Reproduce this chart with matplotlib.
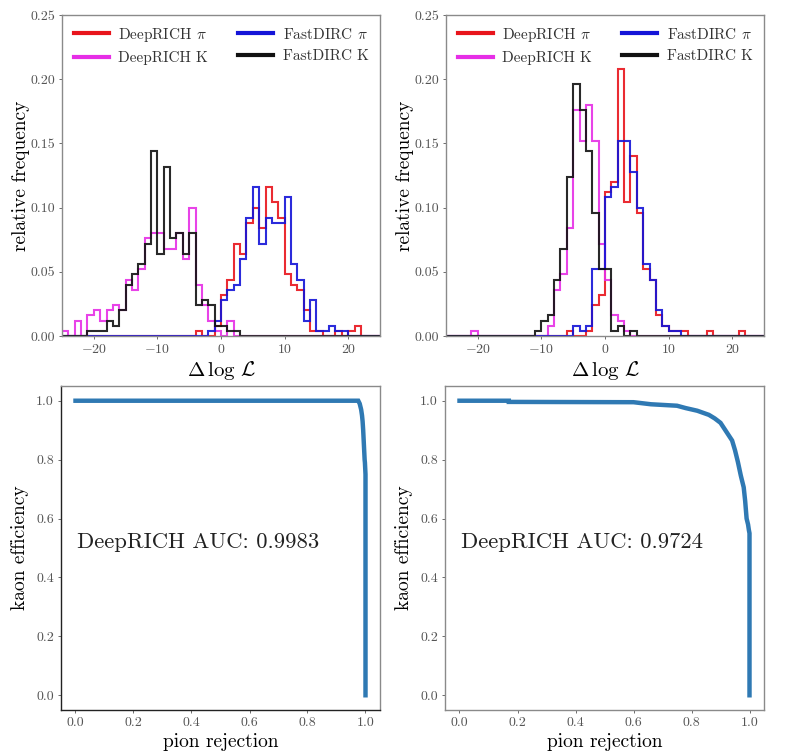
import numpy as np
import matplotlib
matplotlib.use("Agg")
import matplotlib.pyplot as plt

plt.rcParams['font.family'] = 'serif'
plt.rcParams['font.serif'] = ['cmr10', 'DejaVu Serif']
plt.rcParams['mathtext.fontset'] = 'cm'
plt.rcParams['axes.formatter.use_mathtext'] = True
plt.rcParams['axes.unicode_minus'] = True

# ---------------- data ----------------
bin_edges = np.arange(-25, 26, 1)

def full(d):
    arr = np.zeros(len(bin_edges) - 1)
    for k, v in d.items():
        arr[k + 25] = v
    return arr

# Left panel (bin start -> relative frequency)
left_deeprich_pi = full({-4: 0.004, -1: 0.008, 0: 0.032, 1: 0.044, 2: 0.072, 3: 0.064, 4: 0.088,
                         5: 0.100, 6: 0.084, 7: 0.116, 8: 0.104, 9: 0.092, 10: 0.048, 11: 0.040,
                         12: 0.036, 13: 0.020, 14: 0.004, 15: 0.004, 18: 0.004, 20: 0.004, 21: 0.008})
left_deeprich_k = full({-25: 0.004, -23: 0.012, -21: 0.016, -20: 0.020, -19: 0.012, -18: 0.020,
                        -17: 0.024, -16: 0.020, -15: 0.044, -14: 0.036, -13: 0.052, -12: 0.076,
                        -11: 0.080, -10: 0.080, -9: 0.068, -8: 0.068, -7: 0.080, -6: 0.060,
                        -5: 0.100, -4: 0.040, -3: 0.024, -2: 0.012, -1: 0.004, 1: 0.012})
left_fastdirc_pi = full({-2: 0.004, -1: 0.012, 0: 0.028, 1: 0.036, 2: 0.040, 3: 0.060, 4: 0.092,
                         5: 0.116, 6: 0.072, 7: 0.092, 8: 0.088, 9: 0.088, 10: 0.108, 11: 0.056,
                         12: 0.044, 13: 0.012, 14: 0.028, 15: 0.004, 16: 0.004, 17: 0.008,
                         18: 0.004, 19: 0.004})
left_fastdirc_k = full({-21: 0.004, -20: 0.004, -19: 0.004, -18: 0.012, -17: 0.008, -16: 0.020,
                        -15: 0.040, -14: 0.048, -13: 0.056, -12: 0.072, -11: 0.144, -10: 0.064,
                        -9: 0.132, -8: 0.076, -7: 0.080, -6: 0.064, -5: 0.080, -4: 0.024,
                        -3: 0.028, -2: 0.024, -1: 0.008, 0: 0.008, 1: 0.004, 2: 0.004})

# Right panel
right_deeprich_pi = full({-6: 0.004, -3: 0.004, -2: 0.024, -1: 0.032, 0: 0.112, 1: 0.120,
                          2: 0.208, 3: 0.104, 4: 0.140, 5: 0.096, 6: 0.052, 7: 0.044, 8: 0.016,
                          9: 0.008, 10: 0.004, 11: 0.004, 12: 0.004, 16: 0.004, 21: 0.004})
right_deeprich_k = full({-21: 0.004, -9: 0.008, -8: 0.036, -7: 0.048, -6: 0.084, -5: 0.176,
                         -4: 0.152, -3: 0.180, -2: 0.152, -1: 0.072, 0: 0.044, 1: 0.016,
                         2: 0.012, 3: 0.004})
right_fastdirc_pi = full({-5: 0.008, -4: 0.004, -3: 0.008, -2: 0.052, -1: 0.052, 0: 0.108,
                          1: 0.116, 2: 0.152, 3: 0.152, 4: 0.128, 5: 0.100, 6: 0.056, 7: 0.044,
                          8: 0.020, 9: 0.008, 10: 0.004, 11: 0.004})
right_fastdirc_k = full({-11: 0.004, -10: 0.012, -9: 0.016, -8: 0.044, -7: 0.068, -6: 0.124,
                         -5: 0.196, -4: 0.176, -3: 0.144, -2: 0.096, -1: 0.052, 0: 0.052,
                         1: 0.004, 2: 0.008, 4: 0.004})

series_labels = [r'DeepRICH $\pi$', r'DeepRICH K', r'FastDIRC $\pi$', r'FastDIRC K']
series_colors = ['#e8141c', '#e62ee6', '#1414d8', '#111111']

# ROC curves
roc_left_rej = [0.0, 0.975, 0.980, 0.985, 0.988, 0.990, 0.992, 0.994, 0.996, 0.997, 0.998, 1.0, 1.0]
roc_left_eff = [1.0, 1.0, 0.99, 0.97, 0.95, 0.93, 0.90, 0.86, 0.82, 0.80, 0.79, 0.75, 0.0]
roc_right_rej = [0.0, 0.17, 0.17, 0.60, 0.66, 0.75, 0.78, 0.82, 0.86, 0.88, 0.90, 0.92, 0.94,
                 0.95, 0.96, 0.97, 0.98, 0.985, 0.99, 0.995, 0.998, 1.0, 1.0]
roc_right_eff = [1.0, 1.0, 0.996, 0.995, 0.988, 0.983, 0.975, 0.966, 0.952, 0.94, 0.925, 0.895,
                 0.865, 0.832, 0.792, 0.746, 0.706, 0.66, 0.60, 0.58, 0.56, 0.55, 0.0]
auc_texts = ['DeepRICH AUC: 0.9983', 'DeepRICH AUC: 0.9724']

# ---------------- figure ----------------
W, H = 812, 755
fig = plt.figure(figsize=(W / 100, H / 100), dpi=100)

def px_axes(x0, y0, x1, y1):
    return fig.add_axes([x0 / W, 1 - y1 / H, (x1 - x0) / W, (y1 - y0) / H])

ax_tl = px_axes(62, 15, 380, 336)
ax_tr = px_axes(446, 15, 764, 336)
ax_bl = px_axes(61, 386, 380, 710)
ax_br = px_axes(445, 386, 764, 710)

tick_color = '#555555'
spine_color = '#8a8a8a'

def style(ax):
    for s in ax.spines.values():
        s.set_color(spine_color)
        s.set_linewidth(1.0)
    ax.tick_params(labelsize=10, colors=tick_color, length=2, width=0.6, pad=3)

hist_sets = [
    (ax_tl, [left_deeprich_pi, left_deeprich_k, left_fastdirc_pi, left_fastdirc_k]),
    (ax_tr, [right_deeprich_pi, right_deeprich_k, right_fastdirc_pi, right_fastdirc_k]),
]
for ax, vals in hist_sets:
    for v, lab, col in zip(vals, series_labels, series_colors):
        ax.stairs(v, bin_edges, baseline=0, color=col, lw=1.5, label=lab, alpha=0.9)
    ax.set_xlim(-25, 25)
    ax.set_ylim(0, 0.25)
    ax.set_xticks([-20, -10, 0, 10, 20])
    ax.set_yticks(np.arange(0, 0.2501, 0.05))
    ax.yaxis.set_major_formatter(matplotlib.ticker.FormatStrFormatter('%.2f'))
    ax.set_xlabel(r'$\Delta\,\log\,\mathcal{L}$', fontsize=15, labelpad=2)
    ax.set_ylabel('relative frequency', fontsize=14, labelpad=0)
    style(ax)
    leg = ax.legend(loc='upper center', ncol=2, frameon=False, fontsize=11,
                    handlelength=2.3, handletextpad=0.6, columnspacing=2.0,
                    borderaxespad=0.3, labelspacing=0.5)
    for h in leg.legend_handles:
        h.set_linewidth(3)
        h.set_alpha(1)
    for t in leg.get_texts():
        t.set_color('#333333')

roc_sets = [
    (ax_bl, roc_left_rej, roc_left_eff, auc_texts[0]),
    (ax_br, roc_right_rej, roc_right_eff, auc_texts[1]),
]
for ax, rej, eff, txt in roc_sets:
    ax.plot(rej, eff, color='#2f79b3', lw=3.2, solid_joinstyle='miter')
    ax.set_xlim(-0.05, 1.05)
    ax.set_ylim(-0.05, 1.05)
    ax.set_xticks(np.arange(0, 1.01, 0.2))
    ax.set_yticks(np.arange(0, 1.01, 0.2))
    ax.xaxis.set_major_formatter(matplotlib.ticker.FormatStrFormatter('%.1f'))
    ax.yaxis.set_major_formatter(matplotlib.ticker.FormatStrFormatter('%.1f'))
    ax.set_xlabel('pion rejection', fontsize=14, labelpad=3)
    ax.set_ylabel('kaon efficiency', fontsize=14, labelpad=5)
    style(ax)
    ax.text(0.005, 0.5, txt, fontsize=16.3, color='#222222', ha='left', va='baseline')

ax_bl.spines['left'].set_color('#222222')
ax_bl.spines['bottom'].set_color('#222222')

fig.savefig('out.png', dpi=100)
